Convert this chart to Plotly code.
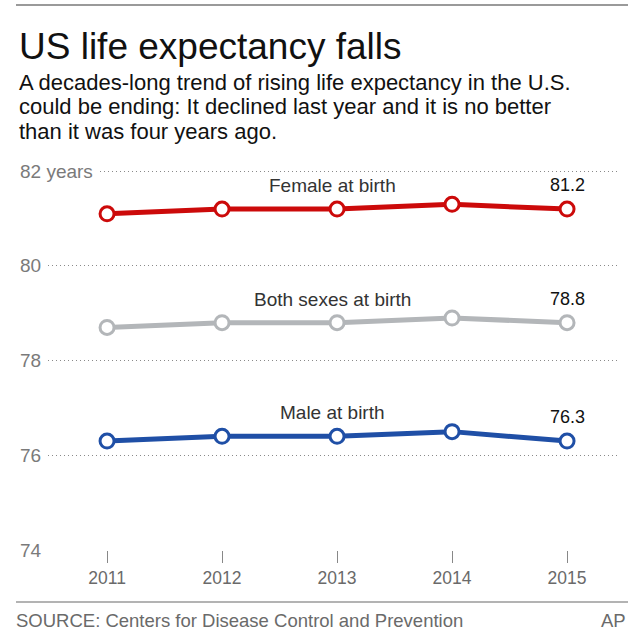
import plotly.graph_objects as go

years = [2011, 2012, 2013, 2014, 2015]
female = [81.1, 81.2, 81.2, 81.3, 81.2]
both = [78.7, 78.8, 78.8, 78.9, 78.8]
male = [76.3, 76.4, 76.4, 76.5, 76.3]
series_names = ["Female at birth", "Both sexes at birth", "Male at birth"]
series_colors = ["#cc0a0a", "#b3b6b9", "#1f4fa6"]
y_ticks = [74, 76, 78, 80, 82]
y_tick_text = ["74", "76", "78", "80", "82 years"]

title_text = "US life expectancy falls"
subtitle_lines = [
    "A decades-long trend of rising life expectancy in the U.S.",
    "could be ending: It declined last year and it is no better",
    "than it was four years ago.",
]
source_text = "SOURCE: Centers for Disease Control and Prevention"
credit_text = "AP"

FONT = "Liberation Sans, Arial, sans-serif"

fig = go.Figure()
for vals, name, col in zip([female, both, male], series_names, series_colors):
    fig.add_trace(go.Scatter(
        x=years, y=vals, mode="lines+markers", name=name,
        line=dict(color=col, width=5),
        marker=dict(size=14, color="white", line=dict(color=col, width=3)),
        showlegend=False, hoverinfo="skip",
    ))

annotations = []
for vals, name in zip([female, both, male], series_names):
    annotations.append(dict(
        x=years[2], y=vals[2] + 0.5, xref="x", yref="y", text=name, xshift=-5,
        showarrow=False, font=dict(family=FONT, size=19, color="#333"),
        xanchor="center", yanchor="middle"))
    annotations.append(dict(
        x=years[-1], y=vals[-1] + 0.5, xref="x", yref="y", text=f"{vals[-1]:.1f}",
        showarrow=False, font=dict(family=FONT, size=18, color="#111"),
        xanchor="center", yanchor="middle"))

for v, t in zip(y_ticks, y_tick_text):
    annotations.append(dict(
        x=(13 - 20) / 598, y=v, xref="paper", yref="y", text=t, showarrow=False,
        font=dict(family=FONT, size=19, color="#7a7a7a"),
        xanchor="left", yanchor="middle", bgcolor="white", borderpad=6))

H = 636
plot_top, plot_bot = 157, 550
def py(px):
    return (plot_bot - px) / (plot_bot - plot_top)
def pxx(px):
    return (px - 20) / 598

annotations.append(dict(
    x=pxx(17), y=py(24), xref="paper", yref="paper",
    text=title_text, showarrow=False,
    font=dict(family=FONT, size=37, color="#111"), xanchor="left", yanchor="top"))
for i, line in enumerate(subtitle_lines):
    annotations.append(dict(
        x=pxx(17), y=py(67.5 + 24.5 * i), xref="paper", yref="paper",
        text=line, showarrow=False,
        font=dict(family=FONT, size=22, color="#111"), xanchor="left", yanchor="top"))
annotations.append(dict(
    x=pxx(14), y=py(608), xref="paper", yref="paper",
    text=source_text, showarrow=False,
    font=dict(family=FONT, size=18.5, color="#6a6a6a"), xanchor="left", yanchor="top"))
annotations.append(dict(
    x=pxx(628), y=py(608), xref="paper", yref="paper",
    text=credit_text, showarrow=False,
    font=dict(family=FONT, size=18.5, color="#6a6a6a"), xanchor="right", yanchor="top"))

shapes = [
    dict(type="line", xref="paper", yref="paper", x0=pxx(16), x1=pxx(628),
         y0=py(5), y1=py(5), line=dict(color="#9a9a9a", width=2)),
    dict(type="line", xref="paper", yref="paper", x0=pxx(16), x1=pxx(628),
         y0=py(602), y1=py(602), line=dict(color="#9a9a9a", width=1.5)),
]

fig.update_layout(
    width=640, height=636,
    margin=dict(l=20, r=22, t=plot_top, b=H - plot_bot, autoexpand=False),
    paper_bgcolor="white", plot_bgcolor="white",
    font=dict(family=FONT),
    annotations=annotations, shapes=shapes,
    xaxis=dict(
        range=[2010.243, 2015.443], tickvals=years, ticktext=[str(y) for y in years],
        showgrid=False, zeroline=False, showline=False,
        ticks="outside", ticklen=12, tickwidth=1, tickcolor="#888",
        tickfont=dict(family=FONT, size=17.5, color="#6a6a6a"),
    ),
    yaxis=dict(
        range=[74, 82.3], tickvals=y_ticks, showticklabels=False,
        showgrid=True, gridcolor="#8a8a8a", griddash="1px,3px", gridwidth=1,
        zeroline=False, showline=False, ticks="",
    ),
)

fig.write_html("out.html", config={"displayModeBar": False},
               post_script="document.body.style.margin='0px';")
